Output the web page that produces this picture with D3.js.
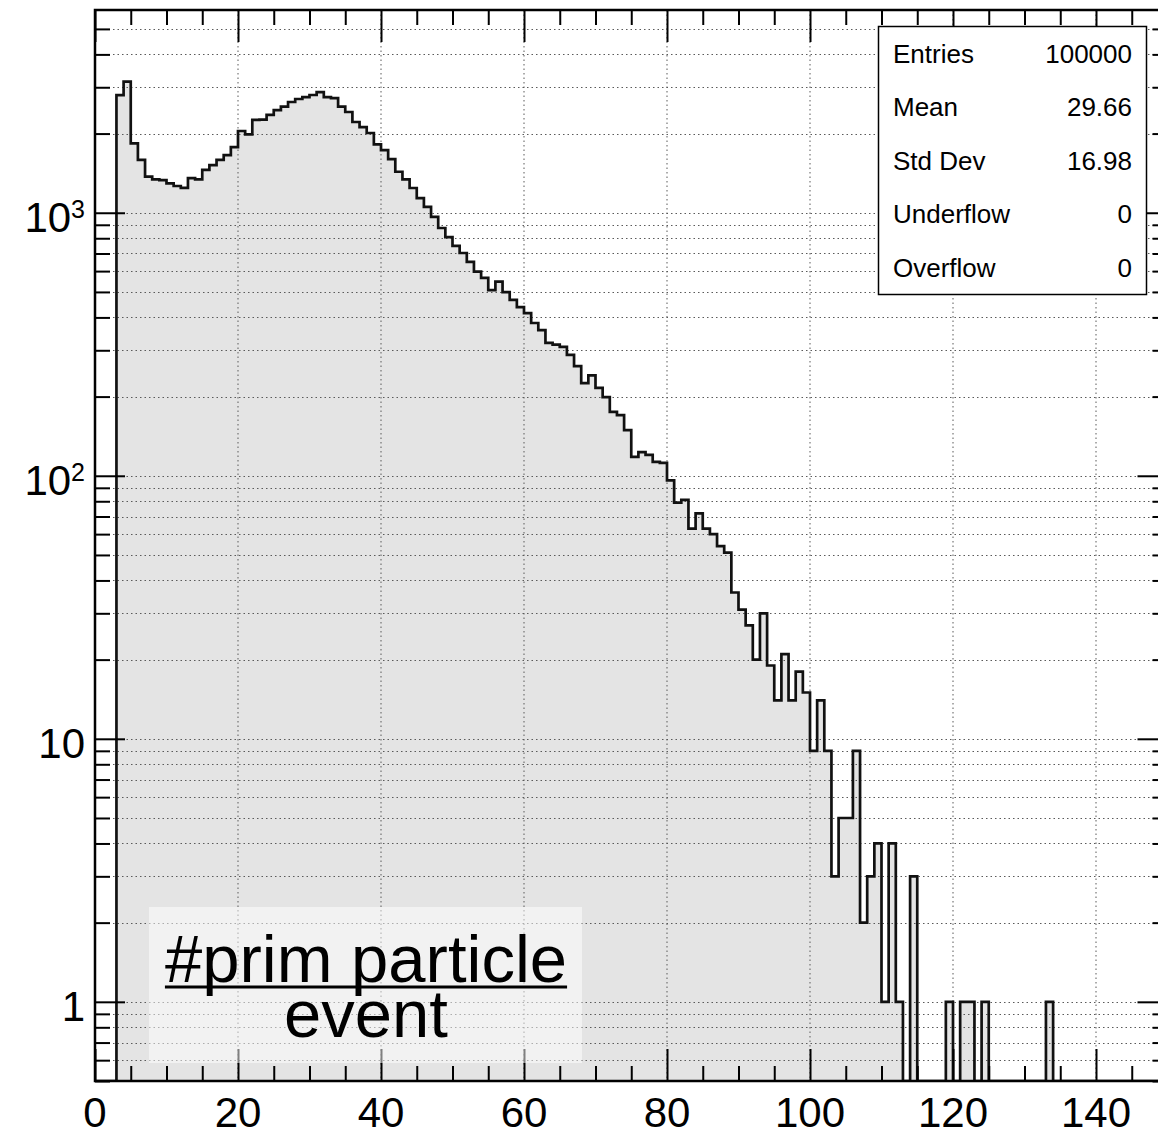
<!DOCTYPE html>
<html>
<head>
<meta charset="utf-8">
<script src="https://cdn.jsdelivr.net/npm/d3@7"></script>
<style>
  body { margin: 0; background: #fff; }
  svg text { font-family: "Liberation Sans", Arial, Helvetica, sans-serif; fill: #000; }
</style>
</head>
<body>
<div id="chart"></div>
<script>
// histogram: 150 bins of width 1 from 0 to 150, counts
var binCounts = [
    0, 0, 0, 2800, 3150, 1836, 1588, 1371, 1340, 1330,
    1294, 1264, 1243, 1355, 1340, 1455, 1518, 1590, 1656, 1775,
    2046, 1985, 2254, 2260, 2354, 2456, 2530, 2637, 2707, 2753,
    2803, 2877, 2753, 2730, 2530, 2416, 2213, 2118, 2010, 1820,
    1730, 1600, 1432, 1340, 1242, 1137, 1052, 964, 875, 808,
    748, 703, 650, 597, 565, 508, 547, 499, 466, 438,
    415, 381, 358, 320, 315, 309, 288, 261, 225, 241,
    216, 199, 175, 170, 149, 118, 123, 120, 113, 112,
    96, 79, 81, 63, 72, 63, 60, 54, 51, 36,
    31, 27, 20, 30, 19, 14, 21, 14, 18, 15,
    9, 14, 9, 3, 5, 5, 9, 2, 3, 4,
    1, 4, 1, 0, 3, 0, 0, 0, 0, 1,
    0, 1, 1, 0, 1, 0, 0, 0, 0, 0,
    0, 0, 0, 1, 0, 0, 0, 0, 0, 0,
    0, 0, 0, 0, 0, 0, 0, 0, 0, 0
];
var xRange = [0, 150];
var yRange = [0.5, 5900];

var xTickLabels = [0, 20, 40, 60, 80, 100, 120, 140];
var yDecades = [1, 10, 100, 1000];

var statNames = ['Entries', 'Mean', 'Std Dev', 'Underflow', 'Overflow'];
var statValues = ['100000', '29.66', '16.98', '0', '0'];

var titleTop = '#prim particle';
var titleBottom = 'event';

var W = 1158, H = 1136;
// frame edges (the right edge falls just outside the window)
var fL = 95, fR = 1167.5, fT = 10, fB = 1081;

var svg = d3.select('#chart')
    .append('svg')
    .attr('width', W)
    .attr('height', H);

svg.append('rect').attr('width', W).attr('height', H).attr('fill', '#fff');

var x = d3.scaleLinear().domain(xRange).range([fL, fR]);
var y = d3.scaleLog().domain(yRange).range([fB, fT]);

svg.append('clipPath').attr('id', 'frameclip')
    .append('rect')
    .attr('x', fL).attr('y', fT)
    .attr('width', fR - fL).attr('height', fB - fT);

var plot = svg.append('g').attr('clip-path', 'url(#frameclip)');

// step outline of the histogram, empty bins sit on the frame bottom
var pts = [[x(0), fB]];
binCounts.forEach(function (c, i) {
    var yy = c > 0 ? y(c) : fB;
    pts.push([x(i), yy], [x(i + 1), yy]);
});
pts.push([x(binCounts.length), fB]);

plot.append('path')
    .attr('d', d3.line()(pts) + 'Z')
    .attr('fill', '#e4e4e4')
    .attr('stroke', 'none');

// dotted grid
var gridStyle = function (sel) {
    sel.attr('stroke', '#5a5a5a')
        .attr('stroke-width', 1)
        .attr('stroke-dasharray', '1.5,3');
};
plot.selectAll('.hgrid')
    .data(y.ticks())
    .enter().append('line')
    .attr('class', 'hgrid')
    .attr('x1', fL).attr('x2', fR)
    .attr('y1', function (d) { return Math.round(y(d)) + 0.5; })
    .attr('y2', function (d) { return Math.round(y(d)) + 0.5; })
    .call(gridStyle);
plot.selectAll('.vgrid')
    .data(xTickLabels.slice(1))
    .enter().append('line')
    .attr('class', 'vgrid')
    .attr('x1', function (d) { return x(d); })
    .attr('x2', function (d) { return x(d); })
    .attr('y1', fT).attr('y2', fB)
    .call(gridStyle);

plot.append('path')
    .attr('d', d3.line()(pts))
    .attr('fill', 'none')
    .attr('stroke', '#111')
    .attr('stroke-width', 2.7);

// ticks on all four sides
var minorY = y.ticks().filter(function (d) { return yDecades.indexOf(d) < 0; });
var minorX = x.ticks(30).filter(function (d) { return d % 20 !== 0; });

function tickAxis(axis, tr) {
    var g = svg.append('g').attr('transform', tr).call(axis);
    g.select('.domain').remove();
    g.selectAll('.tick line').attr('stroke', '#000').attr('stroke-width', 2);
    g.selectAll('.tick text').remove();
}
tickAxis(d3.axisLeft(y).tickValues(yDecades).tickSize(-30), 'translate(' + fL + ',0)');
tickAxis(d3.axisLeft(y).tickValues(minorY).tickSize(-15), 'translate(' + fL + ',0)');
tickAxis(d3.axisRight(y).tickValues(yDecades).tickSize(-30), 'translate(' + fR + ',0)');
tickAxis(d3.axisRight(y).tickValues(minorY).tickSize(-15), 'translate(' + fR + ',0)');
tickAxis(d3.axisBottom(x).tickValues(xTickLabels).tickSize(-32), 'translate(0,' + fB + ')');
tickAxis(d3.axisBottom(x).tickValues(minorX).tickSize(-15), 'translate(0,' + fB + ')');
tickAxis(d3.axisTop(x).tickValues(xTickLabels).tickSize(-32), 'translate(0,' + fT + ')');
tickAxis(d3.axisTop(x).tickValues(minorX).tickSize(-15), 'translate(0,' + fT + ')');

// frame
svg.append('rect')
    .attr('x', fL).attr('y', fT)
    .attr('width', fR - fL).attr('height', fB - fT)
    .attr('fill', 'none').attr('stroke', '#000').attr('stroke-width', 2.5);

// axis labels
svg.selectAll('.xlab')
    .data(xTickLabels)
    .enter().append('text')
    .attr('class', 'xlab')
    .attr('x', function (d) { return x(d); })
    .attr('y', fB + 46)
    .attr('text-anchor', 'middle')
    .style('font-size', '42px')
    .text(function (d) { return d; });

yDecades.forEach(function (v) {
    var exp = Math.round(Math.log10(v));
    var t = svg.append('text')
        .attr('x', 85)
        .attr('y', y(v) + 19)
        .attr('text-anchor', 'end')
        .style('font-size', '42px');
    if (exp < 2) {
        t.text(v);
    } else {
        t.append('tspan').text('10');
        t.append('tspan').attr('dy', -14).style('font-size', '25px').text(exp);
    }
});

// stats box
var sb = svg.append('g');
sb.append('rect')
    .attr('x', 878.5).attr('y', 26.5)
    .attr('width', 268).attr('height', 268)
    .attr('fill', '#fff').attr('stroke', '#000').attr('stroke-width', 1.5);
statNames.forEach(function (n, i) {
    sb.append('text').attr('x', 893).attr('y', 63 + i * 53.4)
        .style('font-size', '26px').text(n);
    sb.append('text').attr('x', 1132).attr('y', 63 + i * 53.4)
        .attr('text-anchor', 'end')
        .style('font-size', '26px').text(statValues[i]);
});

// y-axis title drawn as a fraction inside a pale box
var tb = svg.append('g');
tb.append('rect')
    .attr('x', 149).attr('y', 907)
    .attr('width', 433).attr('height', 156)
    .attr('fill', '#fff').attr('fill-opacity', 0.5);
var num = tb.append('text')
    .attr('x', 366).attr('y', 982)
    .attr('text-anchor', 'middle')
    .style('font-size', '67px')
    .text(titleTop);
var nw = num.node().getComputedTextLength();
tb.append('line')
    .attr('x1', 366 - nw / 2).attr('x2', 366 + nw / 2)
    .attr('y1', 987).attr('y2', 987)
    .attr('stroke', '#000').attr('stroke-width', 3);
tb.append('text')
    .attr('x', 366).attr('y', 1037)
    .attr('text-anchor', 'middle')
    .style('font-size', '67px')
    .text(titleBottom);
</script>
</body>
</html>
